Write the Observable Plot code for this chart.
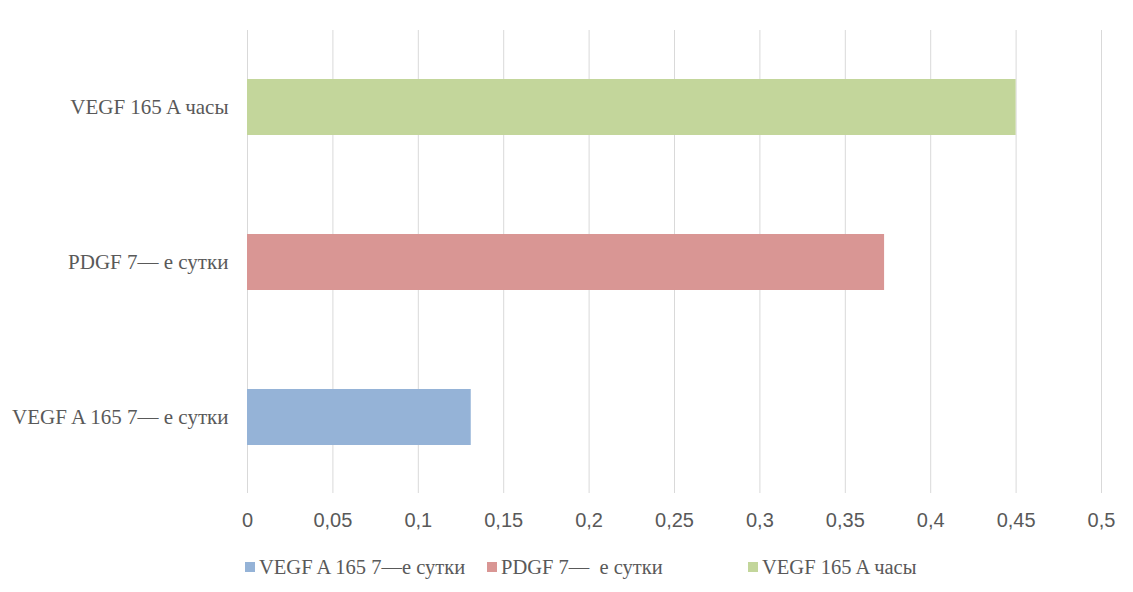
<!DOCTYPE html>
<html><head><meta charset="utf-8">
<script src="https://cdn.jsdelivr.net/npm/d3@7"></script>
<script src="https://cdn.jsdelivr.net/npm/@observablehq/plot@0.6"></script>
<style>
body{margin:0;background:#fff;}
#wrap{position:relative;width:1133px;height:592px;}
#legend{position:absolute;left:0;top:552px;width:1133px;height:30px;font-family:"Liberation Serif",serif;font-size:20.5px;color:#595959;}
.item{position:absolute;top:0;display:flex;align-items:center;white-space:pre;height:30px;}
.sw{width:10px;height:10px;margin-right:4px;}
</style>
</head><body><div id="wrap"><div id="chart"></div><div id="legend"></div></div>
<script>
const categories = ["VEGF A 165 7— е сутки", "PDGF 7— е сутки", "VEGF 165 A часы"];
const legendLabels = ["VEGF A 165 7—е сутки", "PDGF 7—  е сутки", "VEGF 165 A часы"];
const values = [0.131, 0.373, 0.45];
const colors = ["#95B3D7", "#D99694", "#C3D69B"];
const xTicks = [0, 0.05, 0.1, 0.15, 0.2, 0.25, 0.3, 0.35, 0.4, 0.45, 0.5];

const data = categories.map((c, i) => ({category: c, value: values[i]}));
const fmt = d => String(+d.toFixed(2)).replace(".", ",");

const plot = Plot.plot({
  width: 1133, height: 545,
  marginLeft: 247, marginRight: 32, marginTop: 30, marginBottom: 52,
  style: {background: "#fff", color: "#595959"},
  x: {domain: [0, 0.5], label: null},
  y: {domain: [...categories].reverse(), paddingInner: 0.64, paddingOuter: 0.31, label: null},
  color: {domain: categories, range: colors},
  marks: [
    Plot.gridX(xTicks, {stroke: "#d9d9d9", strokeOpacity: 1, strokeWidth: 1}),
    Plot.barX(data, {x: "value", y: "category", fill: "category"}),
    Plot.axisX(xTicks, {tickSize: 0, tickPadding: 19, tickFormat: fmt, fontSize: 20, fontFamily: "Liberation Sans, sans-serif", fill: "#595959", label: null}),
    Plot.axisY({tickSize: 0, tickPadding: 19, fontSize: 21, fontFamily: "Liberation Serif, serif", fill: "#595959", label: null})
  ]
});
document.getElementById("chart").appendChild(plot);

const legendX = [245, 487, 748];
const legend = document.getElementById("legend");
legendLabels.forEach((l, i) => {
  const it = document.createElement("div");
  it.className = "item";
  it.style.left = legendX[i] + "px";
  const sw = document.createElement("div");
  sw.className = "sw";
  sw.style.background = colors[i];
  const t = document.createElement("span");
  t.textContent = l;
  it.appendChild(sw); it.appendChild(t);
  legend.appendChild(it);
});
</script>
</body></html>
